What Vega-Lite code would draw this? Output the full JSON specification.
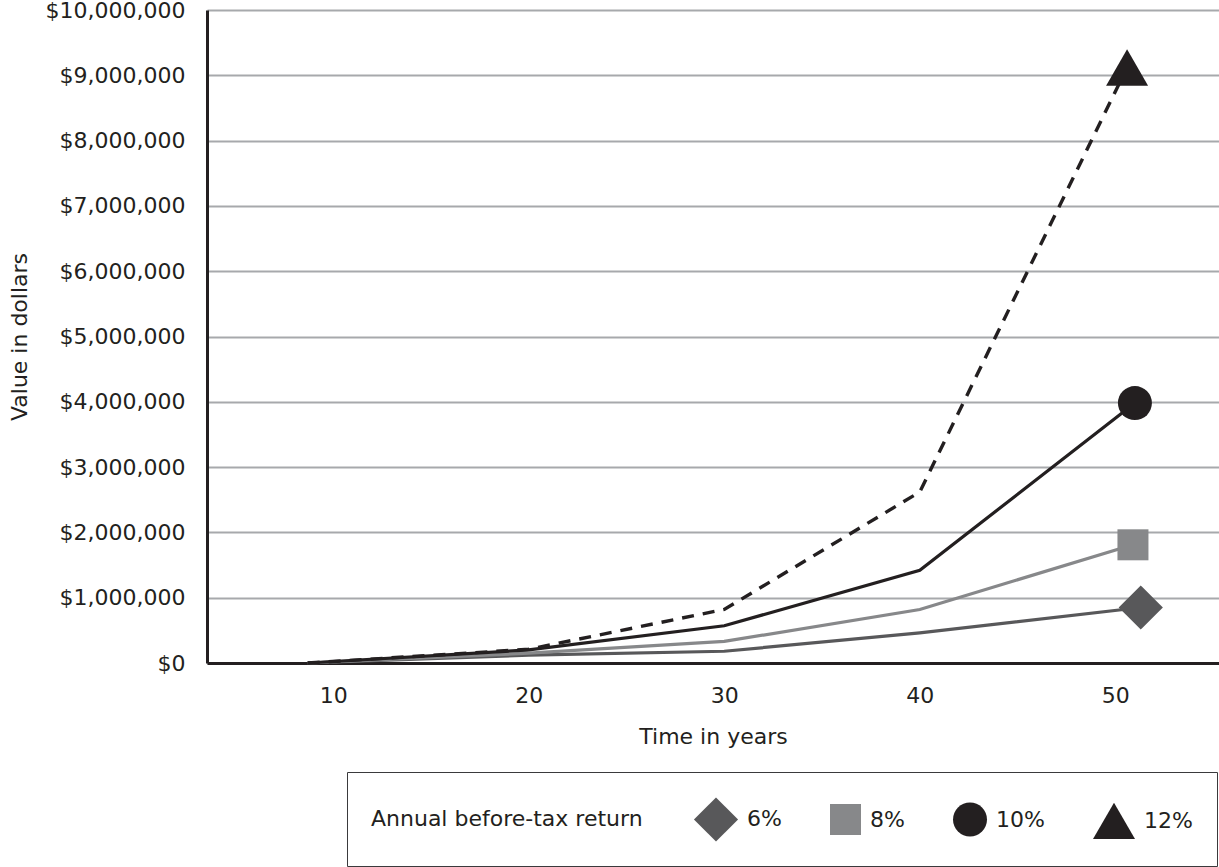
{
  "$schema": "https://vega.github.io/schema/vega-lite/v6.json",
  "width": 1012,
  "height": 653,
  "autosize": "none",
  "padding": {"left": 207, "top": 10, "right": 0, "bottom": 204},
  "background": "white",
  "config": {
    "font": "DejaVu Sans",
    "view": {"stroke": null},
    "axis": {"labelFont": "DejaVu Sans", "titleFont": "DejaVu Sans"}
  },
  "data": {
    "values": [
      {"year": 8.7, "value": 0, "rate": "6%"},
      {"year": 20, "value": 120000, "rate": "6%"},
      {"year": 30, "value": 180000, "rate": "6%"},
      {"year": 40, "value": 460000, "rate": "6%"},
      {"year": 51.3, "value": 850000, "rate": "6%"},
      {"year": 8.7, "value": 0, "rate": "8%"},
      {"year": 20, "value": 150000, "rate": "8%"},
      {"year": 30, "value": 330000, "rate": "8%"},
      {"year": 40, "value": 820000, "rate": "8%"},
      {"year": 50.9, "value": 1810000, "rate": "8%"},
      {"year": 8.7, "value": 0, "rate": "10%"},
      {"year": 20, "value": 200000, "rate": "10%"},
      {"year": 30, "value": 570000, "rate": "10%"},
      {"year": 40, "value": 1420000, "rate": "10%"},
      {"year": 51, "value": 3980000, "rate": "10%"},
      {"year": 8.7, "value": 0, "rate": "12%"},
      {"year": 20, "value": 210000, "rate": "12%"},
      {"year": 30, "value": 820000, "rate": "12%"},
      {"year": 40, "value": 2620000, "rate": "12%"},
      {"year": 50.6, "value": 9120000, "rate": "12%"}
    ]
  },
  "encoding": {
    "x": {
      "field": "year", "type": "quantitative",
      "scale": {"domain": [3.55, 55.3], "nice": false, "zero": false},
      "axis": {
        "title": "Time in years", "values": [10, 20, 30, 40, 50],
        "grid": false, "ticks": false, "domainColor": "#231f20", "domainWidth": 3,
        "labelFontSize": 22, "labelColor": "#231f20", "labelPadding": 22,
        "titleFontSize": 22, "titleFontWeight": "normal", "titleColor": "#231f20", "titlePadding": 20
      }
    },
    "y": {
      "field": "value", "type": "quantitative",
      "scale": {"domain": [0, 10000000], "nice": false},
      "axis": {
        "title": "Value in dollars", "values": [0,1000000,2000000,3000000,4000000,5000000,6000000,7000000,8000000,9000000,10000000],
        "format": "$,.0f", "grid": true, "gridColor": "#a7a9ac", "gridWidth": 2,
        "ticks": false, "domainColor": "#231f20", "domainWidth": 3,
        "labelFontSize": 22, "labelColor": "#231f20", "labelPadding": 22,
        "titleFontSize": 22, "titleFontWeight": "normal", "titleColor": "#231f20", "titlePadding": 14
      }
    }
  },
  "layer": [
    {
      "transform": [{"filter": "datum.rate == '6%'"}],
      "mark": {"type": "line", "strokeWidth": 3.2, "color": "#58585a"},
      "encoding": {}
    },
    {
      "transform": [{"filter": "datum.rate == '8%'"}],
      "mark": {"type": "line", "strokeWidth": 3.2, "color": "#87888a"},
      "encoding": {}
    },
    {
      "transform": [{"filter": "datum.rate == '10%'"}],
      "mark": {"type": "line", "strokeWidth": 3.2, "color": "#231f20"},
      "encoding": {}
    },
    {
      "transform": [{"filter": "datum.rate == '12%'"}],
      "mark": {"type": "line", "strokeWidth": 3.4, "color": "#231f20", "strokeDash": [12, 9]},
      "encoding": {}
    },
    {
      "transform": [{"filter": "datum.year > 50"}],
      "mark": {"type": "point", "filled": true, "opacity": 1},
      "encoding": {
        "color": {"field": "rate", "type": "nominal",
          "scale": {"domain": ["6%", "8%", "10%", "12%"], "range": ["#58585a", "#87888a", "#231f20", "#231f20"]},
          "legend": {
            "orient": "none", "legendX": 140, "legendY": 762, "direction": "horizontal",
            "title": "Annual before-tax return", "titleOrient": "left", "titleFontSize": 22,
            "titleFontWeight": "normal", "titleColor": "#231f20", "titlePadding": 50, "titleLimit": 600,
            "labelFontSize": 22, "labelColor": "#231f20", "labelOffset": 8,
            "strokeColor": "#3a3a3c", "padding": 24, "columnPadding": 47,
            "encode": {"legend": {"update": {"strokeWidth": {"value": 3}}}}
          }},
        "shape": {"field": "rate", "type": "nominal",
          "scale": {"domain": ["6%", "8%", "10%", "12%"], "range": ["diamond", "square", "circle", "triangle-up"]}},
        "size": {"field": "rate", "type": "nominal",
          "scale": {"type": "ordinal", "domain": ["6%", "8%", "10%", "12%"], "range": [1950, 961, 1156, 1764]}}
      }
    }
  ]
}
